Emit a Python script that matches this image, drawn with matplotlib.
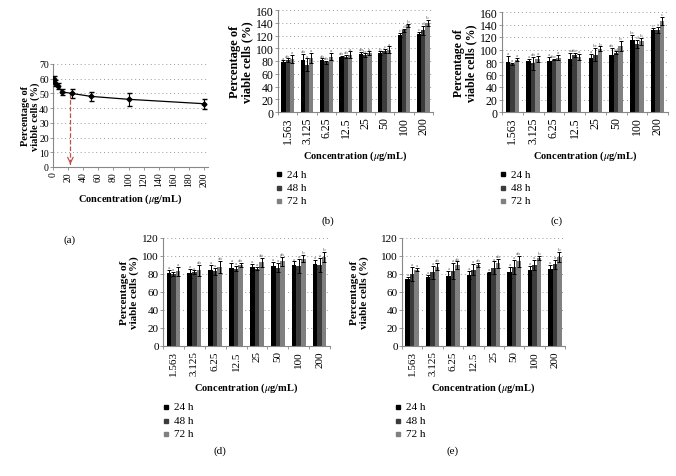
import matplotlib
matplotlib.use('Agg')
import matplotlib.pyplot as plt
import numpy as np
from matplotlib.lines import Line2D

plt.rcParams['font.family'] = ['Liberation Serif', 'DejaVu Serif']
plt.rcParams['mathtext.fontset'] = 'stix'

# 数据 (a)
conc_a = [1.563, 3.125, 6.25, 12.5, 25, 50, 100, 200]
via_a = [60, 57, 55, 51, 50, 48, 46, 43]
err_a = [2, 2, 2, 2, 3, 3, 4.5, 3.5]
ic50 = 23

# 柱状图类别
cats = ['1.563', '3.125', '6.25', '12.5', '25', '50', '100', '200']
times = ['24 h', '48 h', '72 h']

# (b)
b24 = [79, 81, 82, 86, 91, 92, 121, 123]
b48 = [81, 74, 78, 87, 89, 96, 128, 128]
b72 = [83, 85, 87, 90, 92, 98, 136, 140]
b24e = [2, 10, 2, 2, 3, 3, 3, 2]
b48e = [3, 10, 2, 3, 3, 3, 2, 7]
b72e = [6, 8, 6, 5, 3, 5, 2, 5]
b24l = ['a', 'ab', 'ab', 'ab', 'ab', 'b', 'c', 'c']
b48l = ['ab', 'a', 'ab', 'ab', 'bc', 'c', 'd', 'd']
b72l = ['a', 'a', 'a', 'a', 'a', 'a', 'b', 'b']

# (c)
c24 = [80, 81, 82, 85, 87, 92, 115, 131]
c48 = [77, 78, 84, 91, 92, 95, 109, 131]
c72 = [84, 85, 87, 88, 101, 106, 113, 146]
c24e = [10, 4, 6, 10, 6, 10, 8, 4]
c48e = [2, 10, 1, 3, 10, 2, 6, 5]
c72e = [3, 5, 4, 5, 4, 8, 5, 6]
c24l = ['a', 'a', 'a', 'a', 'a', 'ab', 'bc', 'c']
c48l = ['a', 'ab', 'abc', 'abc', 'bc', 'cd', 'd', 'e']
c72l = ['a', 'a', 'a', 'a', 'b', 'b', 'b', 'c']

# (d)
d24 = [81, 81, 85, 87, 88, 89, 90, 91]
d48 = [80, 82, 83, 86, 86, 87, 89, 90]
d72 = [83, 84, 88, 90, 93, 94, 97, 99]
d24e = [4, 5, 5, 5, 3, 4, 4, 5]
d48e = [2, 2, 4, 3, 2, 5, 8, 8]
d72e = [5, 6, 7, 2, 5, 5, 4, 6]
d24l = ['a'] * 8
d48l = ['a'] * 8
d72l = ['a', 'ab', 'ab', 'ab', 'ab', 'ab', 'b', 'b']

# (e)
e24 = [75, 77, 78, 79, 81, 82, 84, 86]
e48 = [80, 82, 83, 85, 87, 88, 90, 91]
e72 = [85, 88, 90, 90, 92, 94, 98, 99]
e24e = [2, 2, 5, 4, 1, 6, 5, 4]
e48e = [8, 7, 9, 6, 7, 8, 6, 5]
e72e = [2, 4, 4, 2, 5, 6, 2, 6]
e24l = ['a'] * 8
e48l = ['a'] * 8
e72l = ['a', 'ab', 'ab', 'ab', 'ab', 'ab', 'b', 'b']

colors = ['#000000', '#3c3c3c', '#808080']
W, H = 676, 477
fig = plt.figure(figsize=(W / 100, H / 100), dpi=100)


def px_axes(l, r, t, b):
    return fig.add_axes([l / W, 1 - b / H, (r - l) / W, (b - t) / H])


def style(ax, ymax, ystep, fs_tick, fs_ylab, fs_xlab):
    ax.set_ylim(0, ymax)
    ax.set_yticks(np.arange(0, ymax + 1, ystep))
    ax.yaxis.grid(True, linestyle=(0, (1, 3)), color='#999999', linewidth=0.7)
    ax.set_axisbelow(True)
    for s in ['top', 'right']:
        ax.spines[s].set_visible(False)
    for s in ['left', 'bottom']:
        ax.spines[s].set_color('#888888')
        ax.spines[s].set_linewidth(0.8)
    ax.tick_params(labelsize=fs_tick, length=2, width=0.6, color='#888888',
                   pad=1)
    ax.set_ylabel('Percentage of\nviable cells (%)', fontsize=fs_ylab,
                  fontweight='bold', linespacing=1.05, labelpad=2)
    ax.set_xlabel(r'Concentration ($\mu$g/mL)', fontsize=fs_xlab,
                  fontweight='bold', labelpad=4)


def bars(ax, vals, errs, labs, ymax, ystep, fs_tick, fs_ylab):
    x = np.arange(len(cats))
    w = 0.22
    for i, (v, e, lb) in enumerate(zip(vals, errs, labs)):
        xi = x + (i - 1) * w
        ax.bar(xi, v, w, color=colors[i], label=times[i], zorder=2)
        ax.errorbar(xi, v, yerr=e, fmt='none', ecolor='black',
                    elinewidth=0.7, capsize=1.5, capthick=0.7, zorder=3)
        for xx, vv, ee, t in zip(xi, v, e, lb):
            ax.text(xx, vv + ee + ymax * 0.008, t, fontsize=3.8,
                    color='#666666', ha='center', va='bottom')
    style(ax, ymax, ystep, fs_tick, fs_ylab, 7.5)
    ax.set_xlim(-0.5, len(cats) - 0.5)
    ax.set_xticks(x)
    ax.set_xticklabels(cats, rotation=90)
    ax.set_xticks(np.arange(-0.5, len(cats), 1), minor=True)
    ax.tick_params(axis='x', which='major', length=0, pad=3)
    ax.tick_params(axis='x', which='minor', length=2, width=0.6,
                   color='#888888')


def legend(mx, y0):
    for i, t in enumerate(times):
        y = 1 - (y0 + i * 13.5) / H
        fig.add_artist(Line2D([mx / W], [y], marker='s', markersize=2.6,
                              color=colors[i], linestyle='none'))
        fig.text((mx + 8) / W, y, t, fontsize=8, va='center', ha='left')


# (a)
axa = px_axes(53, 208, 65, 168)
axa.errorbar(conc_a, via_a, yerr=err_a, color='black', marker='D',
             markersize=2.5, linewidth=0.9, elinewidth=0.8, capsize=1.8,
             zorder=3)
axa.plot([ic50, ic50], [50, 3], color='#c0504d', linestyle='--',
         linewidth=0.9)
axa.annotate('', xy=(ic50, 0), xytext=(ic50, 4),
             arrowprops=dict(arrowstyle='->', color='#c0504d', lw=0.9))
style(axa, 70, 10, 7, 7.5, 7.5)
axa.yaxis.set_label_coords(-0.085, 0.5)
axa.set_xlim(0, 205)
axa.set_xticks(np.arange(0, 201, 20))
axa.tick_params(axis='x', rotation=90)
fig.text(70 / W, 1 - 240 / H, '(a)', fontsize=8, ha='center', va='center')

# (b)
axb = px_axes(278, 433, 11, 113)
bars(axb, [b24, b48, b72], [b24e, b48e, b72e], [b24l, b48l, b72l],
     160, 20, 8.5, 9)
legend(279, 175)
fig.text(328 / W, 1 - 221 / H, '(b)', fontsize=8, ha='center', va='center')

# (c)
axc = px_axes(502, 668, 13, 113)
bars(axc, [c24, c48, c72], [c24e, c48e, c72e], [c24l, c48l, c72l],
     160, 20, 8.5, 8.5)
legend(503, 175)
fig.text(557 / W, 1 - 221 / H, '(c)', fontsize=8, ha='center', va='center')

# (d)
axd = px_axes(163, 330, 239, 347)
bars(axd, [d24, d48, d72], [d24e, d48e, d72e], [d24l, d48l, d72l],
     120, 20, 8, 8)
legend(166, 408)
fig.text(220 / W, 1 - 451 / H, '(d)', fontsize=8, ha='center', va='center')

# (e)
axe = px_axes(402, 565, 239, 347)
bars(axe, [e24, e48, e72], [e24e, e48e, e72e], [e24l, e48l, e72l],
     120, 20, 8, 8)
axe.yaxis.set_label_coords(-0.20, 0.5)
legend(398, 408)
fig.text(453 / W, 1 - 451 / H, '(e)', fontsize=8, ha='center', va='center')

fig.savefig('out.png', dpi=100)
